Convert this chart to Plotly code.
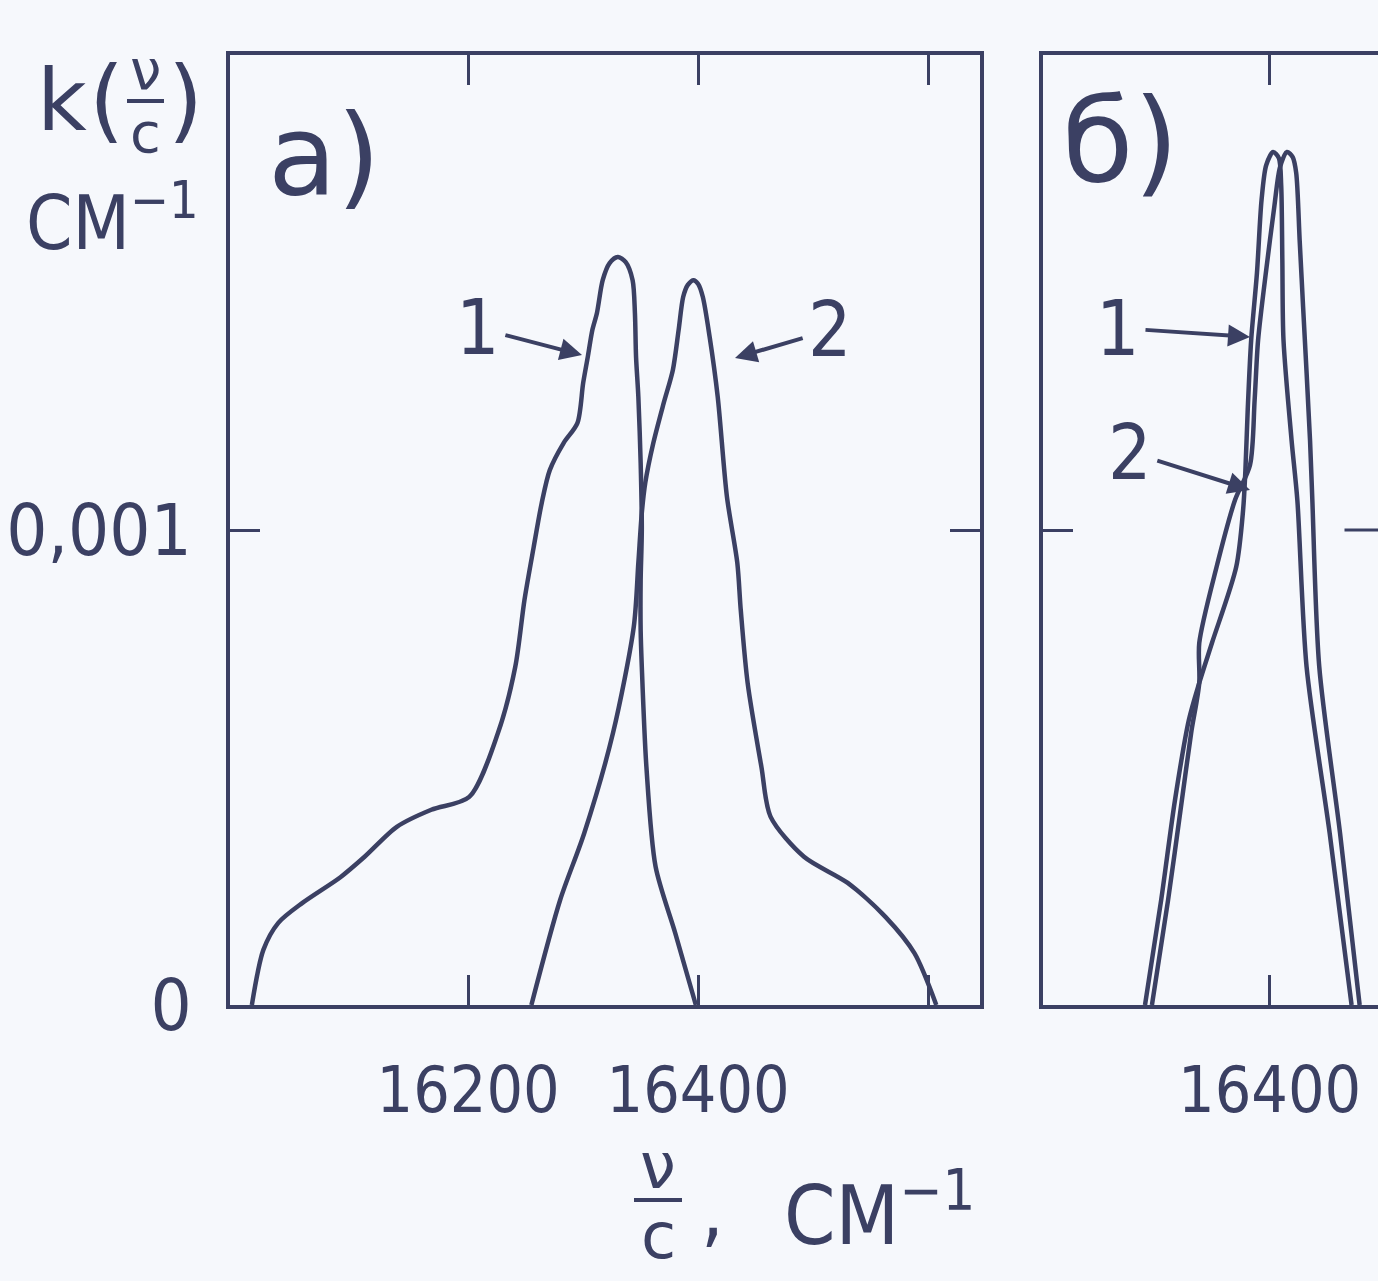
import plotly.graph_objects as go

# ---------------- data ----------------
# Panel а): wavenumber nu/c (cm^-1) and k (cm^-1)
a1_x = [16012, 16022, 16035, 16056, 16089, 16110, 16138, 16168, 16201, 16226, 16241, 16249,
        16257, 16264, 16271, 16283, 16295, 16300, 16304, 16308, 16312, 16317, 16323, 16330,
        16337, 16343, 16345, 16346, 16348, 16350, 16351, 16350, 16350, 16351, 16355, 16363,
        16380, 16398]
a1_y = [0.0, 0.000116, 0.000173, 0.000215, 0.000269, 0.000312, 0.000375, 0.000411, 0.000438,
        0.000573, 0.000712, 0.000853, 0.000964, 0.001057, 0.001126, 0.001183, 0.001225,
        0.001309, 0.001364, 0.001421, 0.001457, 0.001526, 0.001562, 0.001575, 0.001564,
        0.001526, 0.001457, 0.001364, 0.00128, 0.001141, 0.001, 0.000895, 0.000789, 0.000712,
        0.000501, 0.000291, 0.000152, 0.0]

a2_x = [16255, 16280, 16301, 16326, 16344, 16348, 16351, 16354, 16361, 16370, 16378, 16383,
        16387, 16391, 16396, 16400, 16404, 16410, 16417, 16425, 16434, 16437, 16443, 16455,
        16463, 16492, 16530, 16563, 16588, 16607]
a2_y = [0.0, 0.000221, 0.000362, 0.000573, 0.000796, 0.000931, 0.001036, 0.001099, 0.001183,
        0.001267, 0.001337, 0.001421, 0.001491, 0.001516, 0.001526, 0.001518, 0.001491,
        0.001406, 0.00128, 0.00107, 0.000931, 0.000832, 0.000678, 0.000501, 0.000396,
        0.000312, 0.000257, 0.000185, 0.000109, 0.0]

# Panel б)
b1_x = [16292, 16306, 16318, 16330, 16339, 16350, 16371, 16377, 16379, 16381, 16384, 16389,
        16393, 16397, 16403, 16408, 16410, 16411, 16412, 16419, 16424, 16432, 16452, 16471]
b1_y = [0.0, 0.000221, 0.000432, 0.0006, 0.000678, 0.000762, 0.000922, 0.001042, 0.001126,
        0.001253, 0.0014, 0.001541, 0.001695, 0.001768, 0.001796, 0.001783, 0.001726,
        0.001568, 0.0014, 0.001189, 0.001063, 0.000712, 0.000362, 0.0]

b2_x = [16298, 16312, 16324, 16332, 16339, 16339, 16354, 16370, 16383, 16387, 16390, 16397,
        16404, 16409, 16415, 16420, 16423, 16426, 16429, 16435, 16437, 16443, 16461, 16478]
b2_y = [0.0, 0.000221, 0.000432, 0.000573, 0.000678, 0.000762, 0.000922, 0.001063, 0.001137,
        0.001274, 0.0014, 0.001547, 0.00168, 0.001764, 0.001796, 0.001785, 0.001752,
        0.001611, 0.001469, 0.001189, 0.001063, 0.000712, 0.000362, 0.0]

a_xticks = [16200, 16400]
a_xticklabels = ["16200", "16400"]
a_xminor = [16600]
b_xticks = [16400]
b_xticklabels = ["16400"]
yticks = [0, 0.001]
yticklabels = ["0", "0,001"]

# ---------------- style ----------------
W, H = 1378, 1281
INK = "#3b4063"
BG = "#f6f8fc"
FONT = "Liberation Sans Narrow, DejaVu Sans Condensed, Liberation Sans, sans-serif"
LW = 4.5

def px(x):
    return x / W

def py(y):
    return 1 - y / H

fig = go.Figure()
for xs, ys, xa, ya in [(a1_x, a1_y, "x", "y"), (a2_x, a2_y, "x", "y"),
                       (b1_x, b1_y, "x2", "y2"), (b2_x, b2_y, "x2", "y2")]:
    fig.add_trace(go.Scatter(x=xs, y=ys, xaxis=xa, yaxis=ya, mode="lines",
                             line=dict(color=INK, width=LW, shape="spline", smoothing=0.8),
                             showlegend=False, hoverinfo="skip"))

axis_common = dict(showline=True, linecolor=INK, linewidth=4, ticks="inside", ticklen=30,
                   tickwidth=3, tickcolor=INK, showgrid=False, zeroline=False, automargin=False)
minor_common = dict(ticks="inside", ticklen=30, tickwidth=3, tickcolor=INK, showgrid=False)
xfont = dict(family=FONT, size=64, color=INK)
yfont = dict(family=FONT, size=72, color=INK)

fig.update_layout(
    width=W, height=H, margin=dict(l=0, r=0, t=0, b=0, pad=0, autoexpand=False),
    paper_bgcolor=BG, plot_bgcolor=BG, showlegend=False,
    xaxis=dict(domain=[px(230), px(980)], range=[15993, 16645], tickmode="array",
               tickvals=a_xticks, ticktext=a_xticklabels, mirror="ticks", tickfont=xfont,
               minor=dict(tickvals=a_xminor, **minor_common),
               ticklabelstandoff=26, anchor="y", **axis_common),
    yaxis=dict(domain=[py(1005), py(55)], range=[0, 0.002], tickmode="array",
               tickvals=yticks, ticktext=yticklabels, mirror="ticks", tickfont=yfont,
               ticklabelstandoff=20, anchor="x", **axis_common),
    xaxis2=dict(domain=[px(1043), 1.0], range=[16203.6, 16493.9], tickmode="array",
                tickvals=b_xticks, ticktext=b_xticklabels, mirror="ticks", tickfont=xfont,
                ticklabelstandoff=26, anchor="y2", **axis_common),
    yaxis2=dict(domain=[py(1005), py(55)], range=[0, 0.002], tickmode="array",
                tickvals=[0.001], mirror=False, anchor="x2",
                showticklabels=False, **axis_common),
)

# right-hand tick of panel б (its frame edge lies outside the picture)
fig.add_shape(type="line", xref="x2 domain", yref="y2", x0=0.9, x1=1.0, y0=0.001, y1=0.001,
              line=dict(color=INK, width=3))

ann = []
def text(s, x, y, size, **kw):
    ann.append(dict(text=s, x=px(x), y=py(y), xref="paper", yref="paper", showarrow=False,
                    xanchor=kw.pop("xanchor", "center"), yanchor="middle",
                    font=dict(family=kw.pop("family", FONT), size=size, color=INK), **kw))

# panel labels
text("а)", 324, 155, 112, family="DejaVu Sans")
text("б)", 1120, 140, 116, family="DejaVu Sans")
# y-axis title  k(ν/c)  см^-1
text("k", 62, 100, 86, family="DejaVu Sans")
text("(", 106, 100, 90, family="DejaVu Sans")
text("ν", 145, 70, 56, family="DejaVu Sans")
text("c", 145, 132, 56, family="DejaVu Sans")
text(")", 185, 100, 90, family="DejaVu Sans")
text("СМ<sup>−1</sup>", 112, 218, 74)
# x-axis title  ν/c, см^-1
text("ν", 658, 1166, 64, family="DejaVu Sans")
text("c", 658, 1236, 64, family="DejaVu Sans")
text(",", 712, 1210, 80)
text("СМ<sup>−1</sup>", 782, 1210, 82, xanchor="left")

# curve labels with arrows (label position -> arrow head)
for lab, lx, ly, hx, hy in [("1", 478, 328, 582, 355), ("2", 830, 330, 735, 358),
                            ("1", 1118, 328, 1250, 337), ("2", 1130, 452, 1250, 490)]:
    ann.append(dict(text=lab, x=px(hx), y=py(hy), xref="paper", yref="paper", showarrow=True,
                    ax=lx - hx, ay=ly - hy, arrowhead=2, arrowsize=1.1, arrowwidth=4,
                    arrowcolor=INK, standoff=0, startstandoff=4,
                    font=dict(family=FONT, size=76, color=INK)))
fig.update_layout(annotations=ann)

# fraction bars
for x0, x1, y0 in [(127, 164, 101), (634, 682, 1200)]:
    fig.add_shape(type="line", xref="paper", yref="paper", x0=px(x0), x1=px(x1),
                  y0=py(y0), y1=py(y0), line=dict(color=INK, width=4))

fig.write_html("out.html", config={"displayModeBar": False},
               post_script="document.body.style.margin='0';document.body.style.overflow='hidden';")
